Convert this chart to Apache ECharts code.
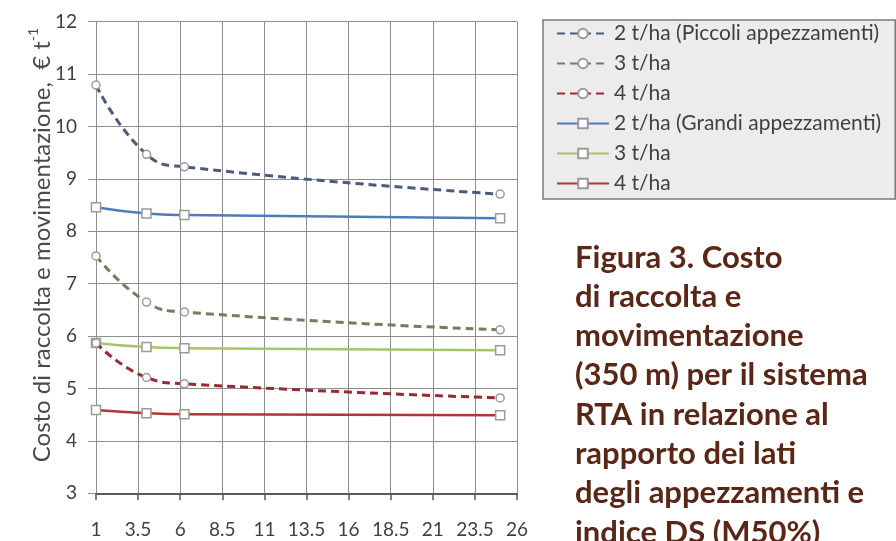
<!DOCTYPE html>
<html>
<head>
<meta charset="utf-8">
<script src="https://cdn.jsdelivr.net/npm/echarts@6/dist/echarts.min.js"></script>
<style>
html,body{margin:0;padding:0;background:#fff;}
#chart{width:896px;height:541px;}
</style>
</head>
<body>
<div id="chart"></div>
<script>
// ---- data ----
var xRatio = [1, 4, 6.25, 25];
var piccoli2 = [10.79, 9.47, 9.23, 8.71];
var piccoli3 = [7.53, 6.65, 6.46, 6.12];
var piccoli4 = [5.87, 5.21, 5.09, 4.82];
var grandi2 = [8.46, 8.34, 8.31, 8.25];
var grandi3 = [5.87, 5.79, 5.77, 5.73];
var grandi4 = [4.59, 4.53, 4.51, 4.49];
var seriesKeys = ['p2', 'p3', 'p4', 'g2', 'g3', 'g4'];
var seriesLabels = ['2 t/ha (Piccoli appezzamenti)', '3 t/ha', '4 t/ha', '2 t/ha (Grandi appezzamenti)', '3 t/ha', '4 t/ha'];
var xTickStart = 1, xTickEnd = 26, xTickStep = 2.5;
var yMin = 3, yMax = 12, yStep = 1;
var yTitle = 'Costo di raccolta e movimentazione,  € t';
var yTitleSup = '-1';
var captionLines = ['Figura 3. Costo', 'di raccolta e', 'movimentazione', '(350 m) per il sistema', 'RTA in relazione al', 'rapporto dei lati', 'degli appezzamenti e', 'indice DS (M50%)'];

var values = [piccoli2, piccoli3, piccoli4, grandi2, grandi3, grandi4];
var colors = ['#4b5b7d', '#737d5e', '#952b33', '#4f7bbd', '#a6c46c', '#b03638'];
var dashed = [true, true, true, false, false, false];

function pairs(ys) {
  return xRatio.map(function (x, i) { return [x - xTickStart, ys[i]]; });
}

var FONT = 'Lato, "Liberation Sans", sans-serif';
var series = seriesKeys.map(function (k, i) {
  return {
    name: k,
    type: 'line',
    data: pairs(values[i]),
    smooth: 0.5,
    symbol: dashed[i] ? 'circle' : 'rect',
    symbolSize: dashed[i] ? 8 : 9,
    lineStyle: { color: colors[i], width: dashed[i] ? 3 : 2.5, type: dashed[i] ? [8, 5] : 'solid' },
    itemStyle: { color: '#ffffff', borderColor: '#9a9a9a', borderWidth: 1.5 },
    emphasis: { disabled: true },
    z: dashed[i] ? 3 : 2
  };
});

var graphics = [{
  type: 'text',
  x: 40, y: 245,
  rotation: Math.PI / 2,
  style: {
    text: '{m|' + yTitle + '}{s|' + yTitleSup + '}',
    align: 'center', verticalAlign: 'middle',
    rich: {
      m: { fontFamily: FONT, fontSize: 24, fill: '#4a4a4a', lineHeight: 28, verticalAlign: 'bottom' },
      s: { fontFamily: FONT, fontSize: 14, fill: '#4a4a4a', lineHeight: 28, verticalAlign: 'top' }
    }
  }
}];
captionLines.forEach(function (t, i) {
  graphics.push({
    type: 'text',
    x: 575, y: 273 + 39.3 * i,
    style: {
      text: t,
      fontFamily: FONT, fontWeight: 'bold', fontSize: 31,
      fill: '#5a2616',
      align: 'left', verticalAlign: 'bottom'
    }
  });
});

var chart = echarts.init(document.getElementById('chart'), null, { renderer: 'canvas' });
chart.setOption({
  backgroundColor: '#ffffff',
  animation: false,
  grid: { left: 96, top: 21.7, right: 379, bottom: 47.7, containLabel: false },
  xAxis: {
    type: 'value',
    min: 0, max: xTickEnd - xTickStart, interval: xTickStep,
    axisLine: { show: true, onZero: false, lineStyle: { color: '#595959', width: 2 } },
    axisTick: { show: true, length: 7, lineStyle: { color: '#595959', width: 1.5 } },
    splitLine: { show: true, lineStyle: { color: '#8e8e8e', width: 1 } },
    axisLabel: {
      color: '#404040', fontFamily: FONT, fontSize: 19, margin: 27,
      formatter: function (v) { return String(Math.round((v + xTickStart) * 10) / 10); }
    }
  },
  yAxis: {
    type: 'value',
    min: yMin, max: yMax, interval: yStep,
    axisLine: { show: true, lineStyle: { color: '#8e8e8e', width: 1 } },
    axisTick: { show: true, length: 8, lineStyle: { color: '#8e8e8e', width: 1 } },
    splitLine: { show: true, lineStyle: { color: '#8e8e8e', width: 1 } },
    axisLabel: { color: '#404040', fontFamily: FONT, fontSize: 19, margin: 19 }
  },
  legend: {
    orient: 'vertical',
    left: 543, top: 20,
    padding: [3, 14, 5, 13],
    itemGap: 9,
    itemWidth: 52, itemHeight: 12,
    backgroundColor: '#ececec',
    borderColor: '#7a7a7a', borderWidth: 1.5, borderRadius: 0,
    selectedMode: false,
    data: seriesKeys,
    formatter: function (n) { return seriesLabels[seriesKeys.indexOf(n)]; },
    textStyle: { color: '#404040', fontFamily: FONT, fontSize: 21 }
  },
  graphic: graphics,
  series: series
});
</script>
</body>
</html>
